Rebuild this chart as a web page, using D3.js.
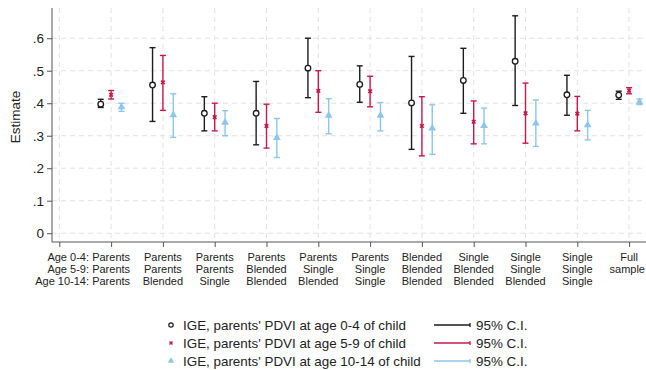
<!DOCTYPE html>
<html><head><meta charset="utf-8">
<script src="https://cdn.jsdelivr.net/npm/d3@7"></script>
<style>body{margin:0;background:#fff}svg{display:block;font-family:"Liberation Sans",Arial,sans-serif}</style>
</head><body>
<svg id="c" width="646" height="370"></svg>
<script>
// ---- data ----
const rowLabels = ["Age 0-4:", "Age 5-9:", "Age 10-14:"];
const categories = [
  ["Parents","Parents","Parents"],
  ["Parents","Parents","Blended"],
  ["Parents","Parents","Single"],
  ["Parents","Blended","Blended"],
  ["Parents","Single","Blended"],
  ["Parents","Single","Single"],
  ["Blended","Blended","Blended"],
  ["Single","Blended","Blended"],
  ["Single","Single","Blended"],
  ["Single","Single","Single"],
  ["Full","sample",""]
];
const est04 = [0.397,0.456,0.369,0.369,0.508,0.458,0.401,0.470,0.529,0.426,0.425];
const lo04  = [0.387,0.344,0.315,0.272,0.417,0.403,0.258,0.369,0.393,0.363,0.412];
const hi04  = [0.412,0.571,0.420,0.467,0.600,0.515,0.544,0.569,0.669,0.486,0.437];
const est59 = [0.426,0.464,0.357,0.330,0.438,0.437,0.330,0.343,0.369,0.368,0.439];
const lo59  = [0.413,0.378,0.315,0.262,0.372,0.389,0.238,0.275,0.277,0.315,0.429];
const hi59  = [0.439,0.547,0.400,0.397,0.500,0.483,0.420,0.407,0.462,0.421,0.448];
const est1014 = [0.388,0.364,0.341,0.294,0.362,0.362,0.323,0.331,0.338,0.333,0.404];
const lo1014  = [0.375,0.295,0.300,0.233,0.306,0.315,0.243,0.275,0.267,0.287,0.396];
const hi1014  = [0.400,0.429,0.377,0.353,0.414,0.402,0.395,0.385,0.410,0.378,0.413];
const yTicks = [0, 0.1, 0.2, 0.3, 0.4, 0.5, 0.6];
const yTickLabels = ["0", ".1", ".2", ".3", ".4", ".5", ".6"];
const seriesNames = ["IGE, parents' PDVI at age 0-4 of child",
                     "IGE, parents' PDVI at age 5-9 of child",
                     "IGE, parents' PDVI at age 10-14 of child"];
const ciLabel = "95% C.I.";

// ---- build ----
const colors = ["#1c1c1c", "#c8184a", "#8cc6ea"];
const offsets = [-0.2, 0, 0.2];
const series = [
  {est: est04, lo: lo04, hi: hi04},
  {est: est59, lo: lo59, hi: hi59},
  {est: est1014, lo: lo1014, hi: hi1014}
];
const FONT = '"Liberation Sans",Arial,sans-serif';

const svg = d3.select("#c");
const x = d3.scaleLinear().domain([-0.141, 11.5]).range([52, 655]);
const y = d3.scaleLinear().domain([-0.027, 0.693]).range([242, 8]);

// gridlines
const g = svg.append("g");
g.selectAll("line.hg").data(yTicks).enter().append("line")
  .attr("x1", 52).attr("x2", 646).attr("y1", d => y(d)).attr("y2", d => y(d))
  .attr("stroke", "#e2e2e2").attr("stroke-width", 1).attr("stroke-dasharray", "5,4");
const xIdx = d3.range(0, categories.length + 1);
g.selectAll("line.vg").data(xIdx).enter().append("line")
  .attr("x1", d => x(d)).attr("x2", d => x(d)).attr("y1", 8).attr("y2", 242)
  .attr("stroke", "#e2e2e2").attr("stroke-width", 1).attr("stroke-dasharray", "5,4");

// y axis
const yAxis = d3.axisLeft(y).tickValues(yTicks).tickFormat((d, i) => yTickLabels[i]).tickSize(5).tickPadding(3);
const ya = svg.append("g").attr("transform", "translate(52,0)").call(yAxis);
ya.attr("font-size", null).attr("font-family", null);
ya.select(".domain").attr("d", "M0,8V242").attr("stroke", "#555");
ya.selectAll(".tick line").attr("stroke", "#555");
ya.selectAll(".tick text").style("font-size", "13.5px").attr("fill", "#222")
  .style("font-family", FONT);

// x axis
const xAxis = d3.axisBottom(x).tickValues(xIdx).tickFormat("").tickSize(5);
const xa = svg.append("g").attr("transform", "translate(0,242)").call(xAxis);
xa.select(".domain").attr("d", "M52,0H646").attr("stroke", "#555");
xa.selectAll(".tick line").attr("stroke", "#555");

// category labels
const lineY = [261, 273, 285];
rowLabels.forEach((t, r) => {
  svg.append("text").attr("x", 89).attr("y", lineY[r]).attr("text-anchor", "end")
    .style("font-size", "11px").attr("fill", "#222").text(t);
});
categories.forEach((c, i) => {
  c.forEach((t, r) => {
    if (!t) return;
    const tx = svg.append("text").attr("x", x(i + 1)).attr("y", lineY[r]).attr("text-anchor", "middle")
      .style("font-size", "11px").attr("fill", "#222").text(t);
    const w = tx.node().getComputedTextLength();
    if (x(i + 1) + w / 2 > 645) tx.attr("text-anchor", "end").attr("x", 645);
  });
});

// y title
svg.append("text").attr("transform", "translate(20,117) rotate(-90)")
  .attr("text-anchor", "middle").style("font-size", "13.5px").attr("fill", "#222").text("Estimate");

// CIs and markers
const cap = 3;
series.forEach((s, k) => {
  const gs = svg.append("g");
  const idx = d3.range(s.est.length);
  const xp = i => x(i + 1 + offsets[k]);
  gs.selectAll("line.ci").data(idx).enter().append("line")
    .attr("x1", xp).attr("x2", xp).attr("y1", i => y(s.lo[i])).attr("y2", i => y(s.hi[i]))
    .attr("stroke", colors[k]).attr("stroke-width", 1.4);
  ["lo", "hi"].forEach(key => {
    gs.selectAll("line.cap" + key).data(idx).enter().append("line")
      .attr("x1", i => xp(i) - cap).attr("x2", i => xp(i) + cap)
      .attr("y1", i => y(s[key][i])).attr("y2", i => y(s[key][i]))
      .attr("stroke", colors[k]).attr("stroke-width", 1.4);
  });
  if (k === 0) {
    gs.selectAll("circle").data(idx).enter().append("circle")
      .attr("cx", xp).attr("cy", i => y(s.est[i])).attr("r", 2.8)
      .attr("fill", "#fff").attr("stroke", colors[k]).attr("stroke-width", 1.3);
  } else if (k === 1) {
    gs.selectAll("path").data(idx).enter().append("path")
      .attr("transform", i => `translate(${xp(i)},${y(s.est[i])}) rotate(45)`)
      .attr("d", d3.symbol(d3.symbolCross, 14)())
      .attr("fill", colors[k]);
  } else {
    gs.selectAll("path").data(idx).enter().append("path")
      .attr("transform", i => `translate(${xp(i)},${y(s.est[i])})`)
      .attr("d", d3.symbol(d3.symbolTriangle, 26)())
      .attr("fill", colors[k]);
  }
});

// legend
const legY = [325, 343, 361];
seriesNames.forEach((t, k) => {
  const ly = legY[k];
  if (k === 0) {
    svg.append("circle").attr("cx", 171).attr("cy", ly).attr("r", 2.2)
      .attr("fill", "#fff").attr("stroke", colors[0]).attr("stroke-width", 1.2);
  } else if (k === 1) {
    svg.append("path").attr("transform", `translate(171,${ly}) rotate(45)`)
      .attr("d", d3.symbol(d3.symbolCross, 10)()).attr("fill", colors[1]);
  } else {
    svg.append("path").attr("transform", `translate(171,${ly})`)
      .attr("d", d3.symbol(d3.symbolTriangle, 18)()).attr("fill", colors[2]);
  }
  svg.append("text").attr("x", 183).attr("y", ly + 4.8).style("font-size", "13.4px")
    .attr("fill", "#222").text(t);
  svg.append("line").attr("x1", 434).attr("x2", 470).attr("y1", ly).attr("y2", ly)
    .attr("stroke", colors[k]).attr("stroke-width", 1.3);
  svg.append("line").attr("x1", 470).attr("x2", 470).attr("y1", ly - 2).attr("y2", ly + 2)
    .attr("stroke", colors[k]).attr("stroke-width", 1.3);
  svg.append("text").attr("x", 476).attr("y", ly + 4.8).style("font-size", "13.4px")
    .attr("fill", "#222").text(ciLabel);
});
</script>
</body></html>
